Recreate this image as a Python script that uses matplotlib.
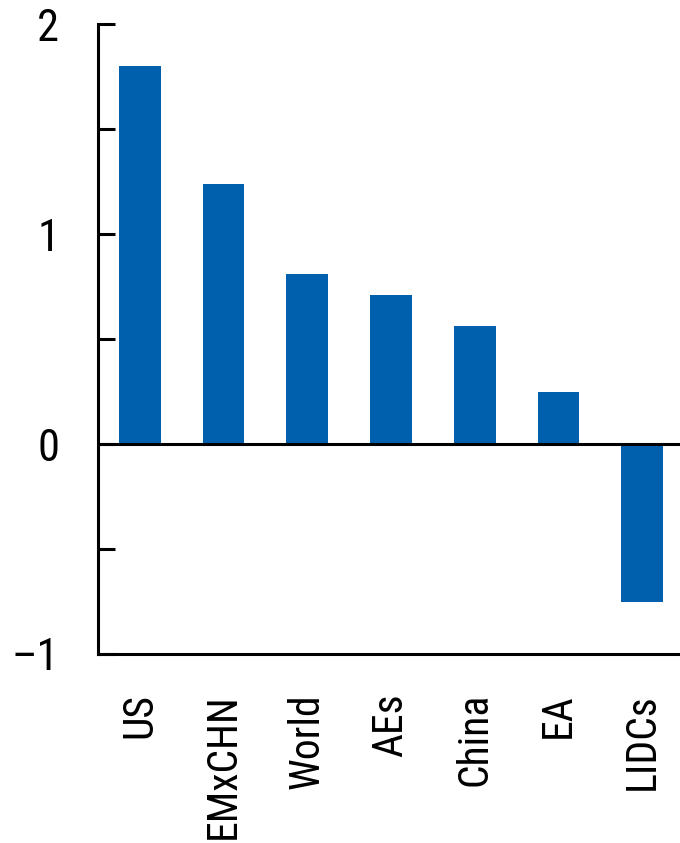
import matplotlib
matplotlib.use("Agg")
import matplotlib.pyplot as plt
from matplotlib.ticker import MultipleLocator
from matplotlib import font_manager

categories = ["US", "EMxCHN", "World", "AEs", "China", "EA", "LIDCs"]
values = [1.80, 1.24, 0.81, 0.71, 0.56, 0.25, -0.75]

names = {f.name for f in font_manager.fontManager.ttflist}
narrow = None
for cand in ["Liberation Sans Narrow", "Arial Narrow", "Roboto Condensed"]:
    if cand in names:
        narrow = cand
        break
fam = narrow if narrow else "Liberation Sans"
xsize = 30 if narrow else 27
ysize = 32 if narrow else 30
plt.rcParams['font.family'] = [fam, 'DejaVu Sans']

fig = plt.figure(figsize=(6.8, 8.43), dpi=100)
ax = fig.add_axes([0.144, 0.2242, 0.856, 0.7473])

x = range(len(categories))
ax.bar(x, values, width=0.5, color="#0060ae", zorder=2)
ax.axhline(0, color="black", lw=2.2, zorder=3)

ax.set_ylim(-1, 2)
ax.set_xlim(-0.5, 6.45)
ax.yaxis.set_major_locator(MultipleLocator(1))
ax.yaxis.set_minor_locator(MultipleLocator(0.5))
ax.tick_params(axis='y', which='both', direction='in', length=12, width=2.2,
               labelsize=ysize, pad=28)
ax.set_yticks([-1, 0, 1, 2])
ax.set_yticklabels(["\u2013" + "1", "0", "1", "2"])
ax.set_xticks(list(x))
ax.set_xticklabels(categories, rotation=90, fontsize=xsize)
ax.tick_params(axis='x', length=0, pad=28)

for s in ["top", "right"]:
    ax.spines[s].set_visible(False)
for s in ["left", "bottom"]:
    ax.spines[s].set_linewidth(2.2)

fig.savefig("out.png", dpi=100)
